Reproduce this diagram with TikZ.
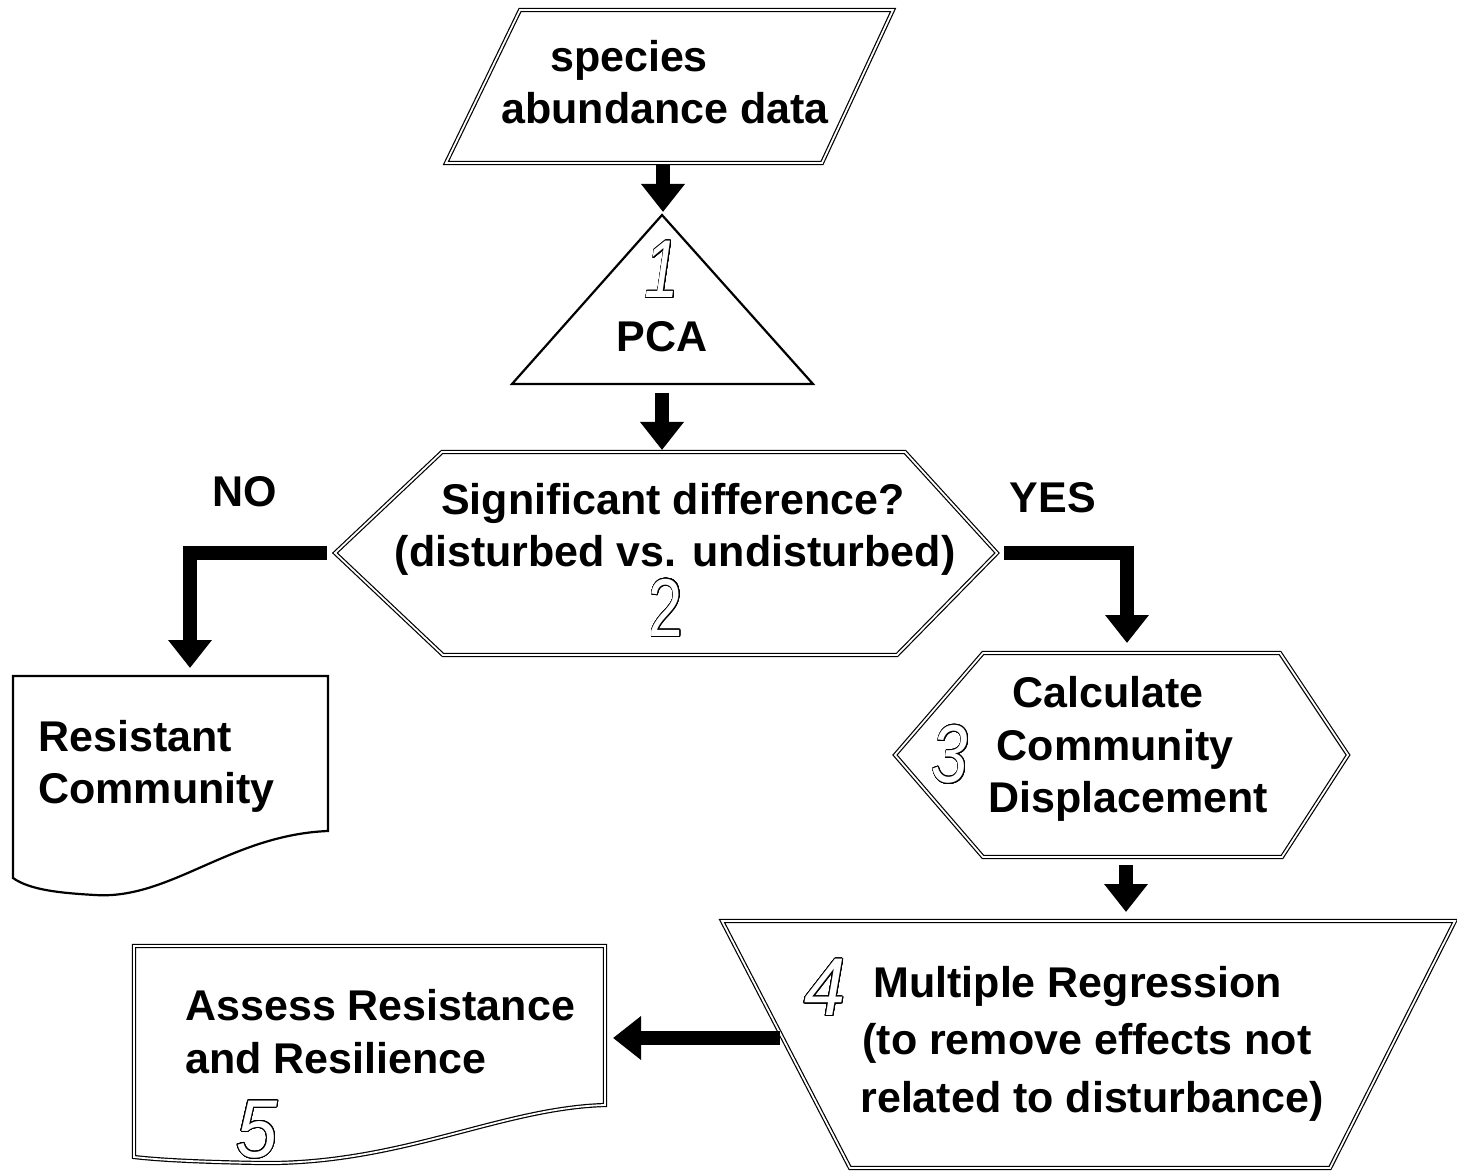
\documentclass[tikz,border=0pt]{standalone}
\usepackage{fontspec}
\setmainfont{Liberation Sans}
\usepackage{contour}
\usetikzlibrary{arrows.meta}
\contourlength{0.45pt}
\contournumber{32}
\newcommand{\odig}[1]{{\color{white}\contour{black}{#1}}}
\begin{document}
\begin{tikzpicture}[x=0.5pt,y=-0.5pt,
  txt/.style={font=\bfseries\fontsize{21.5}{26}\selectfont, inner sep=0pt},
  dig/.style={font=\itshape\fontsize{41}{41}\selectfont, inner sep=0pt},
  dbl/.style={draw, line width=0.6pt, double, double distance=0.9pt, line join=miter},
  sgl/.style={draw, line width=1.1pt, line join=miter},
  flow/.style={line width=7pt, line join=miter, -{Triangle[width=21pt,length=14pt]}}]
\useasboundingbox (0,0) rectangle (1457,1176);

% data parallelogram
\draw[dbl] (520,10) -- (893,10) -- (822,163) -- (446,163) -- cycle;
\node[txt,anchor=base] (t0a) at (629,72) {species};
\node[txt,anchor=base] (t0b) at (665,124) {abundance data};
\coordinate (dataB) at (663,165);
\coordinate (pcaT) at (663,212);

% PCA triangle
\draw[sgl] (662,215) -- (813,384) -- (512,384) -- cycle;
\node[dig] (d1) at (662,270) {\scalebox{0.75}[1]{\odig{1}}};
\node[txt,anchor=base] (t1) at (662,352) {PCA};
\coordinate (pcaB) at (662,393);
\coordinate (hexT) at (662,450);

% decision hexagon
\draw[dbl] (335,553) -- (442,452) -- (905,452) -- (997,553) -- (897,655) -- (443,655) -- cycle;
\node[txt,anchor=base] (t2a) at (673,515) {Significant difference?};
\node[txt,anchor=base] (t2b) at (675,567) {(disturbed vs. undisturbed)};
\node[dig,font=\upshape\fontsize{41}{41}\selectfont] (d2) at (666,608) {\scalebox{0.75}[1]{\odig{2}}};
\coordinate (hexL) at (327,553);
\coordinate (hexR) at (1004,553);
\node[txt,anchor=base] (no) at (245,507) {NO};
\node[txt,anchor=base] (yes) at (1053,513) {YES};

% resistant community document
\draw[sgl] (13,676) -- (328,676) -- (328,831)
  .. controls (230,835) and (170,900) .. (95,895)
  .. controls (60,893) and (30,890) .. (13,878) -- cycle;
\node[txt,anchor=base west] (t6a) at (38,751) {Resistant};
\node[txt,anchor=base west] (t6b) at (38,803) {Community};
\coordinate (resT) at (190,668);

% calculate hexagon
\draw[dbl] (895,755) -- (983,653) -- (1280,653) -- (1348,755) -- (1282,857) -- (983,857) -- cycle;
\node[txt,anchor=base] (t3a) at (1108,707) {Calculate};
\node[txt,anchor=base] (t3b) at (1115,760) {Community};
\node[txt,anchor=base] (t3c) at (1128,812) {Displacement};
\node[dig] (d3) at (950,755) {\scalebox{0.8}[1]{\odig{3}}};
\coordinate (calcT) at (1127,643);
\coordinate (calcB) at (1126,865);
\coordinate (regT) at (1126,912);

% regression trapezoid
\draw[dbl] (722,921) -- (1455,921) -- (1330,1168) -- (850,1168) -- cycle;
\node[dig] (d4) at (825,988) {\scalebox{0.9}[1]{\odig{4}}};
\node[txt,anchor=base west] (t4a) at (873,997) {Multiple Regression};
\node[txt,anchor=base west] (t4b) at (862,1054) {(to remove effects not};
\node[txt,anchor=base west] (t4c) at (860,1112) {related to disturbance)};
\coordinate (regL) at (780,1038);
\coordinate (assR) at (613,1038);

% assess document
\draw[dbl] (134,946) -- (605,946) -- (605,1105)
  .. controls (500,1108) and (400,1165) .. (260,1163)
  .. controls (200,1162) and (160,1160) .. (134,1157) -- cycle;
\node[txt,anchor=base west] (t5a) at (185,1020) {Assess Resistance};
\node[txt,anchor=base west] (t5b) at (185,1073) {and Resilience};
\node[dig] (d5) at (257,1130) {\scalebox{0.9}[1]{\odig{5}}};

% connectors
\draw[flow] (dataB) -- (pcaT);
\draw[flow] (pcaB) -- (hexT);
\draw[flow] (hexL) -| (resT);
\draw[flow] (hexR) -| (calcT);
\draw[flow] (calcB) -- (regT);
\draw[flow] (regL) -- (assR);
\end{tikzpicture}
\end{document}
